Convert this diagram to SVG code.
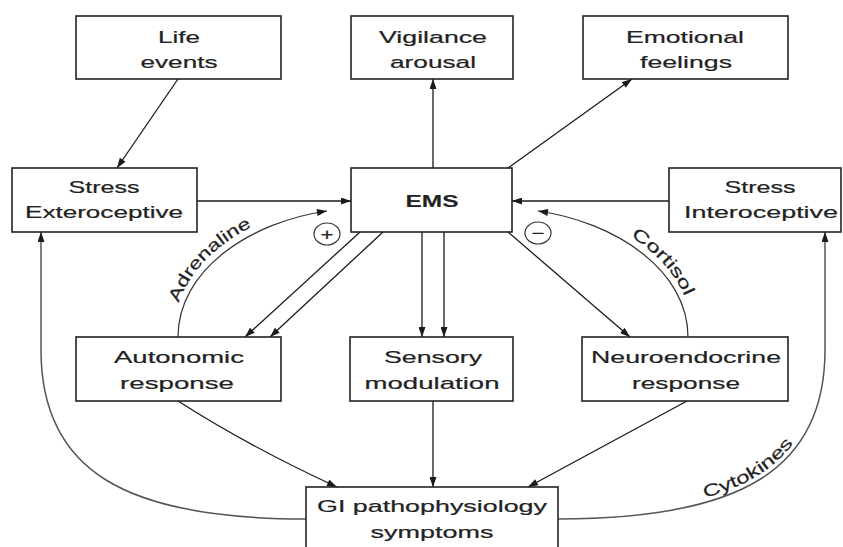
<svg xmlns="http://www.w3.org/2000/svg" xmlns:xlink="http://www.w3.org/1999/xlink" width="843" height="547" viewBox="0 0 843 547">
<style>
  .box { fill: #fff; stroke: #222; stroke-width: 1.6; }
  .t { font-family: "Liberation Sans", Arial, sans-serif; font-size: 17px; fill: #222; stroke: #222; stroke-width: 0.2; text-anchor: middle; }
  .b { font-weight: bold; stroke-width: 0.1; }
  .lbl { font-family: "Liberation Sans", Arial, sans-serif; font-size: 17px; fill: #222; stroke: #222; stroke-width: 0.2; text-anchor: middle; }
  .c { fill: none; stroke: #1a1a1a; stroke-width: 1.3; }
  .arc { fill: none; stroke: #333; stroke-width: 1.2; }
  .grey { fill: none; stroke: #555; stroke-width: 1.5; }
  .sign { fill: none; stroke: #333; stroke-width: 1.2; }
</style>
<defs>
  <marker id="ah" viewBox="0 0 10 7" refX="10" refY="3.5" markerWidth="11" markerHeight="7" markerUnits="userSpaceOnUse" orient="auto">
    <path d="M0,0 L10,3.5 L0,7 z" fill="#1a1a1a"/>
  </marker>
  <path id="pAdr" d="M173,337 C173,265 245,216 322,205"/>
  <path id="pCor" d="M543,205 C620,216 693,265 693,337"/>
  <path id="pCyt" d="M558,514 C738,514 820,468 820,350"/>
</defs>
<rect width="843" height="547" fill="#fff"/>

<g id="connectors">
  <path class="c" d="M178,79 L117,168" marker-end="url(#ah)"/>
  <path class="c" d="M197,201 L351,201" marker-end="url(#ah)"/>
  <path class="c" d="M669,201 L512,201" marker-end="url(#ah)"/>
  <path class="c" d="M433,168 L433,79" marker-end="url(#ah)"/>
  <path class="c" d="M508,168 L632,79" marker-end="url(#ah)"/>
  <path class="c" d="M360,232 L245,337" marker-end="url(#ah)"/>
  <path class="c" d="M383,232 L270,337" marker-end="url(#ah)"/>
  <path class="c" d="M422,232 L422,337" marker-end="url(#ah)"/>
  <path class="c" d="M444,232 L444,337" marker-end="url(#ah)"/>
  <path class="c" d="M508,232 L630,337" marker-end="url(#ah)"/>
  <path class="c" d="M433,401 L433,487" marker-end="url(#ah)"/>
  <path class="c" d="M178,401 Q250,447 337,487" marker-end="url(#ah)"/>
  <path class="c" d="M687,401 L528,487" marker-end="url(#ah)"/>
  <path class="arc" d="M178,337 C178,270 250,222 327,211" marker-end="url(#ah)"/>
  <path class="arc" d="M688,337 C688,270 615,222 538,211" marker-end="url(#ah)"/>
  <path class="grey" d="M306,519 C124,519 41,470 41,350 L41,232" marker-end="url(#ah)"/>
  <path class="grey" d="M558,519 C740,519 825,470 825,350 L825,232" marker-end="url(#ah)"/>
  <ellipse class="sign" cx="327" cy="234" rx="13" ry="11"/>
  <text class="lbl" x="327" y="240" font-size="17" textLength="13" lengthAdjust="spacingAndGlyphs">+</text>
  <ellipse class="sign" cx="538" cy="233" rx="13" ry="11"/>
  <text class="lbl" x="538" y="239" font-size="17" textLength="13" lengthAdjust="spacingAndGlyphs">−</text>
  <text class="lbl"><textPath xlink:href="#pAdr" startOffset="41%" textLength="108" lengthAdjust="spacingAndGlyphs">Adrenaline</textPath></text>
  <text class="lbl"><textPath xlink:href="#pCor" startOffset="62%" textLength="82" lengthAdjust="spacingAndGlyphs">Cortisol</textPath></text>
  <text class="lbl"><textPath xlink:href="#pCyt" startOffset="57%" textLength="106" lengthAdjust="spacingAndGlyphs">Cytokines</textPath></text>
</g>

<g id="life-events">
  <rect class="box" x="76" y="16" width="205" height="63"/>
  <text class="t" x="179" y="43" textLength="42" lengthAdjust="spacingAndGlyphs">Life</text>
  <text class="t" x="179" y="68" textLength="77" lengthAdjust="spacingAndGlyphs">events</text>
</g>
<g id="vigilance">
  <rect class="box" x="351" y="16" width="162" height="63"/>
  <text class="t" x="433" y="43" textLength="108" lengthAdjust="spacingAndGlyphs">Vigilance</text>
  <text class="t" x="433" y="68" textLength="86" lengthAdjust="spacingAndGlyphs">arousal</text>
</g>
<g id="emotional">
  <rect class="box" x="583" y="16" width="205" height="63"/>
  <text class="t" x="685" y="43" textLength="118" lengthAdjust="spacingAndGlyphs">Emotional</text>
  <text class="t" x="686" y="68" textLength="92" lengthAdjust="spacingAndGlyphs">feelings</text>
</g>
<g id="stress-ext">
  <rect class="box" x="12" y="168" width="185" height="64"/>
  <text class="t" x="104" y="193" textLength="71" lengthAdjust="spacingAndGlyphs">Stress</text>
  <text class="t" x="104" y="218" textLength="158" lengthAdjust="spacingAndGlyphs">Exteroceptive</text>
</g>
<g id="ems">
  <rect class="box" x="351" y="168" width="161" height="64"/>
  <text class="t b" x="432" y="207" font-size="18" textLength="53" lengthAdjust="spacingAndGlyphs">EMS</text>
</g>
<g id="stress-int">
  <rect class="box" x="669" y="168" width="172" height="64"/>
  <text class="t" x="760" y="193" textLength="71" lengthAdjust="spacingAndGlyphs">Stress</text>
  <text class="t" x="761" y="218" textLength="154" lengthAdjust="spacingAndGlyphs">Interoceptive</text>
</g>
<g id="autonomic">
  <rect class="box" x="76" y="337" width="205" height="64"/>
  <text class="t" x="179" y="363" textLength="130" lengthAdjust="spacingAndGlyphs">Autonomic</text>
  <text class="t" x="177" y="389" textLength="114" lengthAdjust="spacingAndGlyphs">response</text>
</g>
<g id="sensory">
  <rect class="box" x="350" y="337" width="163" height="64"/>
  <text class="t" x="433" y="363" textLength="98" lengthAdjust="spacingAndGlyphs">Sensory</text>
  <text class="t" x="432" y="389" textLength="135" lengthAdjust="spacingAndGlyphs">modulation</text>
</g>
<g id="neuroendocrine">
  <rect class="box" x="582" y="337" width="206" height="64"/>
  <text class="t" x="686" y="363" textLength="190" lengthAdjust="spacingAndGlyphs">Neuroendocrine</text>
  <text class="t" x="686" y="389" textLength="108" lengthAdjust="spacingAndGlyphs">response</text>
</g>
<g id="gi">
  <rect class="box" x="306" y="487" width="252" height="70"/>
  <text class="t" x="432" y="512" textLength="230" lengthAdjust="spacingAndGlyphs">GI pathophysiology</text>
  <text class="t" x="432" y="538" textLength="123" lengthAdjust="spacingAndGlyphs">symptoms</text>
</g>
</svg>
